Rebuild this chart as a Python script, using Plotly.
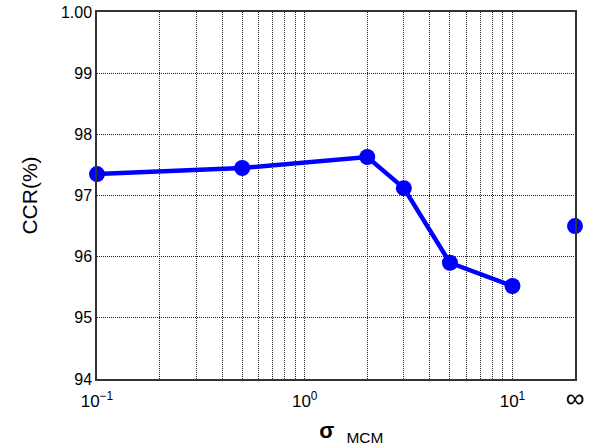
import plotly.graph_objects as go

# Classification rate versus kernel width sigma_MCM
sigma = [0.1, 0.5, 2, 3, 5, 10]
ccr = [97.35, 97.45, 97.63, 97.12, 95.90, 95.52]

# result with sigma -> infinity, drawn at the right edge of the axis
ccr_inf = 96.50
INF_POS = 20

x_tick_labels = ["10<sup>−1</sup>", "10<sup>0</sup>", "10<sup>1</sup>",
                 "<span style='font-size:26px'>∞</span>"]
y_tick_labels = ["94", "95", "96", "97", "98", "99", "1.00"]

x_major = [0.1, 1, 10, INF_POS]
x_minor = [m * d for d in (0.1, 1) for m in range(2, 10)]
y_vals = [94, 95, 96, 97, 98, 99, 100]

BLUE = "#0000ff"
FONT = "Liberation Sans, Arial, sans-serif"

fig = go.Figure()
fig.add_trace(go.Scatter(
    x=sigma, y=ccr, mode="lines+markers",
    line=dict(color=BLUE, width=4.5),
    marker=dict(color=BLUE, size=16),
    cliponaxis=False, showlegend=False,
))
fig.add_trace(go.Scatter(
    x=[INF_POS], y=[ccr_inf], mode="markers",
    marker=dict(color=BLUE, size=16),
    cliponaxis=False, showlegend=False,
))

grid = dict(gridcolor="#222", gridwidth=1, griddash="1px,1px")

fig.update_xaxes(
    type="log", range=[-1, 1.30103],
    tickvals=x_major, ticktext=x_tick_labels,
    minor=dict(tickvals=x_minor, showgrid=True, ticks="", **grid),
    showgrid=True, **grid,
    showline=True, linecolor="#333", linewidth=1.5, mirror=True,
    zeroline=False, ticks="", ticklabelstandoff=6, automargin=False,
    tickfont=dict(family=FONT, size=17, color="black"),
    title=dict(text="&nbsp;&nbsp;&nbsp;&nbsp;&nbsp;<b>σ</b>&nbsp;&nbsp;<sub>MCM</sub>",
               font=dict(family=FONT, size=22, color="black"), standoff=22),
)
fig.update_yaxes(
    range=[94, 100],
    tickvals=y_vals, ticktext=y_tick_labels,
    showgrid=True, **grid,
    showline=True, linecolor="#333", linewidth=1.5, mirror=True,
    zeroline=False, ticks="", automargin=False,
    tickfont=dict(family=FONT, size=16, color="black"),
    title=dict(text="CCR(%)", font=dict(family=FONT, size=21, color="black"),
               standoff=18),
)

fig.update_layout(
    width=600, height=446,
    margin=dict(l=97, r=25, t=12, b=67),
    paper_bgcolor="white", plot_bgcolor="white",
)

fig.write_html("out.html")
